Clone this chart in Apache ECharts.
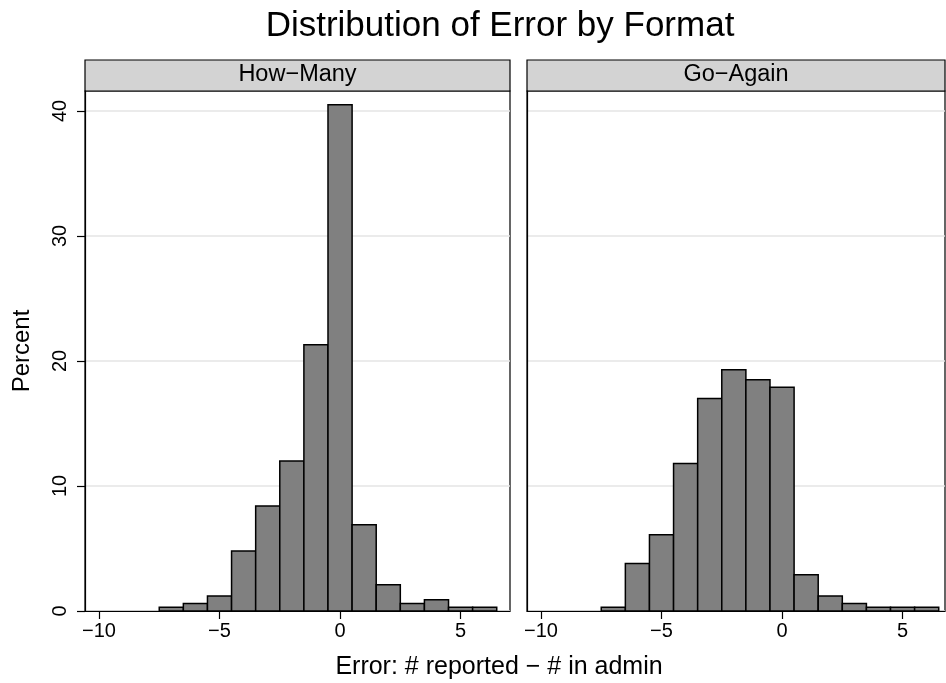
<!DOCTYPE html>
<html>
<head>
<meta charset="utf-8">
<script src="https://cdn.jsdelivr.net/npm/echarts@6/dist/echarts.min.js"></script>
<style>
html,body{margin:0;padding:0;background:#fff;}
#chart{width:946px;height:683px;}
</style>
</head>
<body>
<div id="chart"></div>
<script>
// ---- data ----
const bins = [-7, -6, -5, -4, -3, -2, -1, 0, 1, 2, 3, 4, 5, 6];
const howMany = [0.3, 0.6, 1.2, 4.8, 8.4, 12.0, 21.3, 40.5, 6.9, 2.1, 0.6, 0.9, 0.3, 0.3];
const goAgain = [0.3, 3.8, 6.1, 11.8, 17.0, 19.3, 18.5, 17.9, 2.9, 1.2, 0.6, 0.3, 0.3, 0.3];
const panelNames = ['How\u2212Many', 'Go\u2212Again'];
const xTicks = [-10, -5, 0, 5];
const yTicks = [0, 10, 20, 30, 40];
const chartTitle = 'Distribution of Error by Format';
const xTitle = 'Error: # reported \u2212 # in admin';
const yTitle = 'Percent';

const FONT = '"Liberation Sans", Arial, Helvetica, sans-serif';
const chart = echarts.init(document.getElementById('chart'), null, {renderer: 'canvas'});

function renderItem(params, api) {
  const x = api.value(0), y = api.value(1);
  const p0 = api.coord([x - 0.5, y]);
  const p1 = api.coord([x + 0.5, 0]);
  return {
    type: 'rect',
    shape: {x: p0[0], y: p0[1], width: p1[0] - p0[0], height: p1[1] - p0[1]},
    style: {fill: '#808080', stroke: '#000', lineWidth: 1.5}
  };
}
const minusFmt = v => String(v).replace('-', '\u2212');

const grids = [
  {left: 85, top: 91, width: 425, height: 520},
  {left: 527, top: 91, width: 418, height: 520}
];
const xRanges = [[-10.58, 7.05], [-10.58, 6.76]];

const option = {
  backgroundColor: '#fff',
  animation: false,
  grid: grids.map(g => Object.assign({show: true, borderColor: '#000', borderWidth: 1.2, backgroundColor: '#fff'}, g)),
  xAxis: xRanges.map((r, i) => ({
    type: 'value', gridIndex: i, min: r[0], max: r[1],
    axisLine: {show: true, onZero: false, lineStyle: {color: '#000', width: 1.2}},
    axisTick: {show: true, length: 8, lineStyle: {color: '#000', width: 1.2}, customValues: xTicks},
    axisLabel: {show: true, customValues: xTicks, formatter: minusFmt, fontFamily: FONT, fontSize: 20, color: '#000', margin: 10},
    splitLine: {show: false}
  })),
  yAxis: [0, 1].map(i => ({
    type: 'value', gridIndex: i, min: 0, max: 41.6, interval: 10,
    name: i === 0 ? yTitle : '', nameLocation: 'middle', nameRotate: 90, nameGap: 51,
    nameTextStyle: {fontFamily: FONT, fontSize: 24, color: '#000'},
    axisLine: {show: true, onZero: false, lineStyle: {color: '#000', width: 1.2}},
    axisTick: {show: i === 0, length: 8, lineStyle: {color: '#000', width: 1.2}, customValues: yTicks},
    axisLabel: {show: i === 0, rotate: 90, customValues: yTicks, fontFamily: FONT, fontSize: 20, color: '#000', margin: 15},
    splitLine: {show: true, lineStyle: {color: '#e4e4e4', width: 1.5}}
  })),
  series: [howMany, goAgain].map((vals, i) => ({
    type: 'custom', xAxisIndex: i, yAxisIndex: i,
    renderItem: renderItem,
    data: bins.map((b, k) => [b, vals[k]]),
    z: 5
  })),
  graphic: [
    {type: 'text', x: 500, y: 26, style: {text: chartTitle, font: '35px ' + FONT, fill: '#000', align: 'center', verticalAlign: 'middle'}},
    ...grids.map((g, i) => ({
      type: 'group', x: g.left, y: 60,
      children: [
        {type: 'rect', shape: {x: 0, y: 0, width: g.width, height: 31}, style: {fill: '#d3d3d3', stroke: '#000', lineWidth: 1.2}},
        {type: 'text', x: g.width / 2, y: 15, style: {text: panelNames[i], font: '23.5px ' + FONT, fill: '#000', align: 'center', verticalAlign: 'middle'}}
      ]
    })),
    {type: 'text', x: 499, y: 667, style: {text: xTitle, font: '25px ' + FONT, fill: '#000', align: 'center', verticalAlign: 'middle'}}
  ]
};
chart.setOption(option);
</script>
</body>
</html>
